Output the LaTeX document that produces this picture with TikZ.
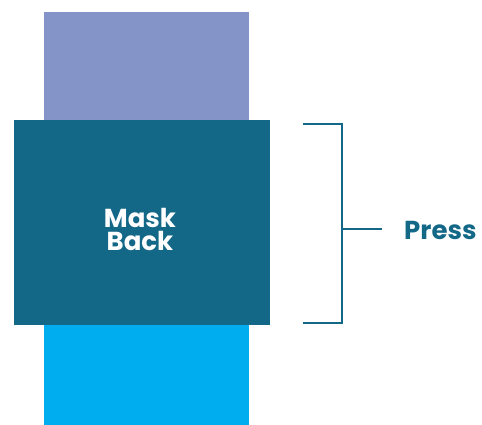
\documentclass[tikz,border=0pt]{standalone}
\usepackage{fontspec}
\setmainfont{Poppins}
\definecolor{topc}{HTML}{8493C8}
\definecolor{midc}{HTML}{136888}
\definecolor{botc}{HTML}{00AEEF}
\begin{document}
\begin{tikzpicture}[x=1pt,y=-1pt,
  lbl/.style={font=\bfseries\fontsize{26}{23}\selectfont, inner sep=0pt},
  brk/.style={draw=midc, line width=2.8pt}]
\useasboundingbox (0,0) rectangle (482,425);
\fill[topc] (44,12) rectangle (249,121);
\fill[botc] (44,324) rectangle (249,425);
\fill[midc] (14,120) rectangle (270,325);
\node[lbl, text=white, align=center, anchor=base] (mb) at (140,250) {Mask\\Back};
\coordinate (t1) at (303,124);
\coordinate (t2) at (342,124);
\coordinate (b1) at (303,323);
\coordinate (b2) at (342,323);
\coordinate (m1) at (342,229);
\coordinate (m2) at (382,229);
\draw[brk] (t1) -- (t2) -- (b2) -- (b1);
\draw[brk] (m1) -- (m2);
\node[lbl, text=midc, anchor=base west] (press) at (404,239) {Press};
\end{tikzpicture}
\end{document}
